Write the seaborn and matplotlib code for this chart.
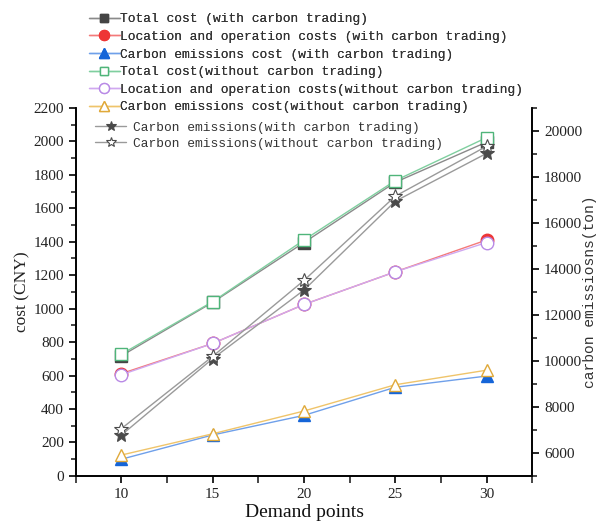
import matplotlib
matplotlib.use("Agg")
import matplotlib.pyplot as plt
from matplotlib.ticker import MultipleLocator
import seaborn as sns
import pandas as pd

# Demand points on the x axis
demand_points = [10, 15, 20, 25, 30]

# Costs (CNY), left axis
total_cost_ct = [718, 1038, 1395, 1755, 1995]
location_cost_ct = [612, 792, 1025, 1220, 1410]
emission_cost_ct = [100, 245, 362, 530, 597]
total_cost_noct = [728, 1042, 1410, 1765, 2022]
location_cost_noct = [605, 792, 1025, 1220, 1395]
emission_cost_noct = [125, 252, 388, 545, 632]

# Carbon emissions (ton), right axis
emissions_ct = [6780, 10100, 13080, 16940, 19020]
emissions_noct = [7060, 10200, 13500, 17160, 19330]

cost_labels = [
    "Total cost (with carbon trading)",
    "Location and operation costs (with carbon trading)",
    "Carbon emissions cost (with carbon trading)",
    "Total cost(without carbon trading)",
    "Location and operation costs(without carbon trading)",
    "Carbon emissions cost(without carbon trading)",
]
emission_labels = [
    "Carbon emissions(with carbon trading)",
    "Carbon emissions(without carbon trading)",
]

sns.set_theme(style="ticks")
serif = "Liberation Serif"
mono = "Liberation Mono"

fig = plt.figure(figsize=(6.02, 5.21), dpi=100)
ax = fig.add_axes([0.126, 0.0865, 0.758, 0.7065])
ax2 = ax.twinx()

cost_series = [
    (total_cost_ct, "s", "#8a8a8a", "#444444", "#444444", 8),
    (location_cost_ct, "o", "#f47a7a", "#ee3535", "#ee3535", 9),
    (emission_cost_ct, "^", "#6fa0ea", "#1565d8", "#1565d8", 9),
    (total_cost_noct, "s", "#7fcf9f", "white", "#4fb57a", 8),
    (location_cost_noct, "o", "#d0a8f0", "white", "#b98ae6", 9),
    (emission_cost_noct, "^", "#efc46a", "white", "#e0a93a", 9),
]

for (vals, mk, lc, fc, ec, ms), lab in zip(cost_series, cost_labels):
    df = pd.DataFrame({"demand": demand_points, "value": vals})
    sns.lineplot(data=df, x="demand", y="value", ax=ax, color=lc, lw=1.0,
                 marker=mk, markersize=ms,
                 markerfacecolor=fc, markeredgecolor=ec, markeredgewidth=1.0,
                 label=lab, legend=False)

for vals, fc, lab in [(emissions_ct, "#4a4a4a", emission_labels[0]),
                      (emissions_noct, "white", emission_labels[1])]:
    df = pd.DataFrame({"demand": demand_points, "value": vals})
    sns.lineplot(data=df, x="demand", y="value", ax=ax2, color="#9a9a9a", lw=1.0,
                 marker="*", markersize=10, markerfacecolor=fc,
                 markeredgecolor="#4a4a4a", markeredgewidth=0.8,
                 label=lab, legend=False)

# Axis ranges and ticks
ax.set_xlim(7.5, 32.5)
ax.set_ylim(0, 2200)
ax2.set_ylim(5000, 21000)
ax.set_xticks(demand_points)
ax.xaxis.set_minor_locator(MultipleLocator(2.5))
ax.yaxis.set_major_locator(MultipleLocator(200))
ax.yaxis.set_minor_locator(MultipleLocator(100))
ax2.set_yticks([6000, 8000, 10000, 12000, 14000, 16000, 18000, 20000])
ax2.yaxis.set_minor_locator(MultipleLocator(1000))

for a in (ax, ax2):
    a.spines["top"].set_visible(False)
    for s in a.spines.values():
        s.set_linewidth(1.2)
        s.set_color("black")
    a.tick_params(which="major", direction="out", length=5, width=1.2,
                  labelsize=11, colors="black")
    a.tick_params(which="minor", direction="out", length=3.5, width=1.2)
    for t in a.get_xticklabels() + a.get_yticklabels():
        t.set_fontfamily(serif)
        t.set_color("#222222")
ax.tick_params(axis="x", which="minor", length=5)

ax.set_xlabel("Demand points", fontfamily=serif, fontsize=14, labelpad=2, color="#111111")
ax.set_ylabel("cost (CNY)", fontfamily=serif, fontsize=12.5, labelpad=2, color="#222222")
ax2.set_ylabel("carbon emissiosns(ton)", fontfamily=mono, fontsize=10.5, labelpad=1,
               color="#333333")

h1, l1 = ax.get_legend_handles_labels()
leg1 = ax.legend(h1, l1, loc="lower left", bbox_to_anchor=(0.028, 0.985),
                 frameon=False, prop={"family": mono, "size": 9.3},
                 handlelength=2.4, handletextpad=0.0, labelspacing=0.43,
                 borderaxespad=0, borderpad=0, markerscale=0.8)
ax.add_artist(leg1)
for t in leg1.get_texts():
    t.set_color("#333333")

h2, l2 = ax2.get_legend_handles_labels()
leg2 = ax2.legend(h2, l2, loc="upper left", bbox_to_anchor=(0.042, 0.963),
                  frameon=False, prop={"family": mono, "size": 9.3},
                  handlelength=2.4, handletextpad=0.55, labelspacing=0.33,
                  borderaxespad=0, borderpad=0, markerscale=0.7)
for t in leg2.get_texts():
    t.set_color("#333333")

fig.savefig("out.png", dpi=100)
